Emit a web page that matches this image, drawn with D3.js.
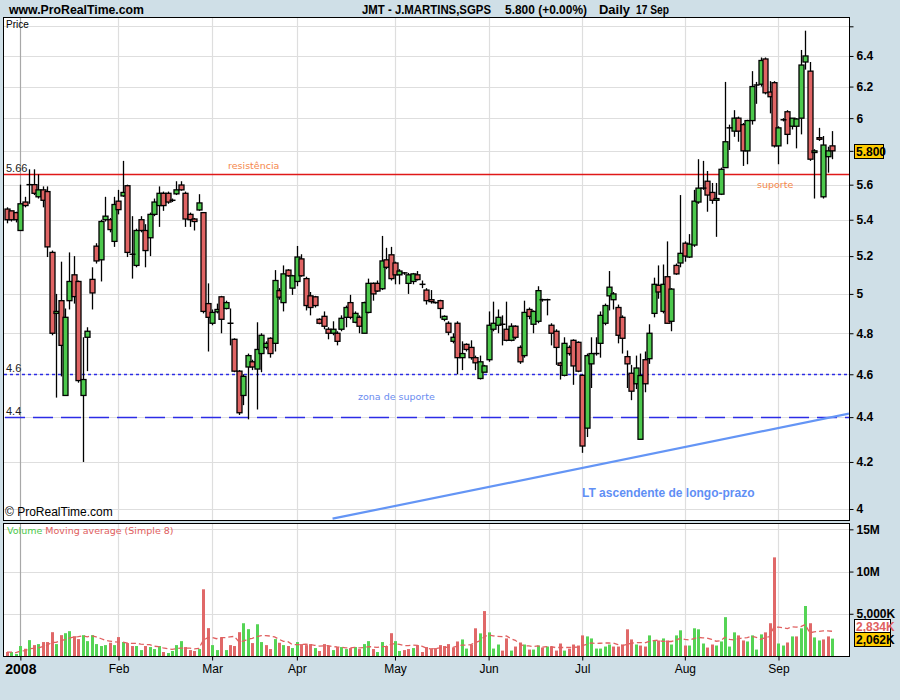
<!DOCTYPE html>
<html><head><meta charset="utf-8">
<script src="https://cdn.jsdelivr.net/npm/d3@7"></script>
<style>body{margin:0;background:#cfdfe7;} svg{display:block;}</style>
</head><body><svg id="chart" width="900" height="700"></svg>
<script>
// ---------- DATA ----------
const dates = [
"2007-12-27","2007-12-28","2007-12-31",
"2008-01-02","2008-01-03","2008-01-04","2008-01-07","2008-01-08","2008-01-09","2008-01-10","2008-01-11","2008-01-14","2008-01-15","2008-01-16","2008-01-17","2008-01-18","2008-01-21","2008-01-22","2008-01-23","2008-01-24","2008-01-25","2008-01-28","2008-01-29","2008-01-30","2008-01-31",
"2008-02-01","2008-02-04","2008-02-05","2008-02-06","2008-02-07","2008-02-08","2008-02-11","2008-02-12","2008-02-13","2008-02-14","2008-02-15","2008-02-18","2008-02-19","2008-02-20","2008-02-21","2008-02-22","2008-02-25","2008-02-26","2008-02-27","2008-02-28","2008-02-29",
"2008-03-03","2008-03-04","2008-03-05","2008-03-06","2008-03-07","2008-03-10","2008-03-11","2008-03-12","2008-03-13","2008-03-14","2008-03-17","2008-03-18","2008-03-19","2008-03-20","2008-03-25","2008-03-26","2008-03-27","2008-03-28","2008-03-31",
"2008-04-01","2008-04-02","2008-04-03","2008-04-04","2008-04-07","2008-04-08","2008-04-09","2008-04-10","2008-04-11","2008-04-14","2008-04-15","2008-04-16","2008-04-17","2008-04-18","2008-04-21","2008-04-22","2008-04-23","2008-04-24","2008-04-25","2008-04-28","2008-04-29","2008-04-30",
"2008-05-02","2008-05-05","2008-05-06","2008-05-07","2008-05-08","2008-05-09","2008-05-12","2008-05-13","2008-05-14","2008-05-15","2008-05-16","2008-05-19","2008-05-20","2008-05-21","2008-05-22","2008-05-23","2008-05-26","2008-05-27","2008-05-28","2008-05-29","2008-05-30",
"2008-06-02","2008-06-03","2008-06-04","2008-06-05","2008-06-06","2008-06-09","2008-06-10","2008-06-11","2008-06-12","2008-06-13","2008-06-16","2008-06-17","2008-06-18","2008-06-19","2008-06-20","2008-06-23","2008-06-24","2008-06-25","2008-06-26","2008-06-27","2008-06-30",
"2008-07-01","2008-07-02","2008-07-03","2008-07-04","2008-07-07","2008-07-08","2008-07-09","2008-07-10","2008-07-11","2008-07-14","2008-07-15","2008-07-16","2008-07-17","2008-07-18","2008-07-21","2008-07-22","2008-07-23","2008-07-24","2008-07-25","2008-07-28","2008-07-29","2008-07-30","2008-07-31",
"2008-08-01","2008-08-04","2008-08-05","2008-08-06","2008-08-07","2008-08-08","2008-08-11","2008-08-12","2008-08-13","2008-08-14","2008-08-15","2008-08-18","2008-08-19","2008-08-20","2008-08-21","2008-08-22","2008-08-25","2008-08-26","2008-08-27","2008-08-28","2008-08-29",
"2008-09-01","2008-09-02","2008-09-03","2008-09-04","2008-09-05","2008-09-08","2008-09-09","2008-09-10","2008-09-11","2008-09-12","2008-09-15","2008-09-16","2008-09-17"
];
const openP = [
5.46,5.45,5.44,5.34,5.50,5.60,5.60,5.53,5.57,5.56,
5.22,4.90,4.965,4.50,4.965,5.10,5.065,4.50,4.78,5.076,
5.254,5.18,5.40,5.40,5.28,5.505,5.535,5.594,5.21,5.15,
5.40,5.34,5.30,5.43,5.48,5.55,5.55,5.51,5.547,5.598,
5.55,5.43,5.404,5.455,5.44,4.95,4.85,4.908,4.985,4.925,
4.85,4.77,4.615,4.50,4.635,4.66,4.625,4.70,4.73,4.775,
4.75,5.017,4.955,5.125,5.03,5.065,
5.185,5.08,4.99,4.985,
4.87,4.885,4.82,4.80,4.80,4.82,4.88,4.955,4.855,4.88,
4.80,4.905,5.055,5.055,5.027,5.18,5.207,5.163,5.10,5.11,
5.055,5.065,5.10,5.05,5.02,4.97,4.955,4.965,4.87,4.85,
4.76,4.85,4.68,4.745,4.73,4.68,4.58,4.61,4.67,4.82,
4.84,4.845,4.82,4.765,4.835,4.73,4.69,4.92,4.845,4.86,
4.97,4.97,4.84,4.81,4.654,4.595,4.73,4.765,4.755,4.595,
4.35,4.65,4.70,4.75,4.85,4.99,4.97,4.93,4.88,4.685,
4.605,4.555,4.30,4.67,4.675,4.90,5.045,4.91,5.09,4.86,
5.15,5.163,5.27,5.195,5.26,5.50,5.58,5.62,5.555,5.51,
5.545,5.70,5.94,5.92,6.00,5.96,5.80,5.985,6.21,6.215,
6.38,6.165,6.225,5.83,5.99,6.04,5.95,5.95,6.00,6.36,
6.30,5.79,5.88,5.53,5.765,5.83
];
const highP = [
5.47,5.45,5.445,5.60,5.53,5.69,5.69,5.66,5.59,5.59,
5.23,5.00,5.17,4.925,5.22,5.20,5.07,4.78,4.83,5.14,
5.27,5.40,5.53,5.41,5.53,5.57,5.74,5.60,5.42,5.35,
5.42,5.375,5.44,5.52,5.59,5.56,5.56,5.52,5.62,5.62,
5.56,5.44,5.41,5.545,5.44,5.055,4.92,4.95,4.99,4.965,
4.925,4.775,4.62,4.60,4.70,4.67,4.855,4.80,4.76,4.78,
5.125,5.03,5.15,5.13,5.10,5.255,
5.21,5.09,5.01,4.99,
4.875,4.91,4.83,4.86,4.81,4.89,4.94,4.995,4.91,4.89,
4.96,5.08,5.06,5.07,5.31,5.245,5.25,5.17,5.13,5.115,
5.11,5.11,5.12,5.07,5.03,5.02,4.96,4.97,4.89,4.86,
4.80,4.86,4.76,4.75,4.765,4.69,4.69,4.645,4.91,4.96,
4.92,4.89,4.96,4.85,4.84,4.74,4.965,4.93,4.915,5.04,
4.975,4.975,4.85,4.82,4.66,4.78,4.74,4.77,4.76,4.60,
4.70,4.78,4.78,4.91,4.95,5.12,5.01,4.945,4.89,4.715,
4.645,4.69,4.70,4.71,4.845,5.085,5.15,5.155,5.28,5.03,
5.16,5.54,5.28,5.32,5.57,5.75,5.74,5.68,5.61,5.61,
5.70,6.23,5.96,6.05,6.01,5.97,5.99,6.30,6.23,6.39,
6.39,6.235,6.235,5.95,6.00,6.05,6.00,6.00,6.44,6.57,
6.36,5.81,5.94,5.89,5.825,5.92
];
const lowP = [
5.38,5.39,5.385,5.34,5.47,5.49,5.54,5.52,5.47,5.195,
4.79,4.49,4.59,4.50,4.92,4.95,4.56,4.20,4.615,4.92,
5.16,5.065,5.39,5.33,5.25,5.43,5.53,5.195,5.08,5.14,
5.33,5.14,5.20,5.42,5.36,5.45,5.49,5.50,5.54,5.565,
5.36,5.36,5.34,5.45,4.90,4.71,4.84,4.90,4.80,4.92,
4.74,4.61,4.41,4.455,4.39,4.62,4.435,4.61,4.72,4.68,
4.71,4.97,4.91,5.09,4.995,5.04,
5.09,4.915,4.89,4.93,
4.845,4.82,4.77,4.79,4.74,4.81,4.83,4.87,4.85,4.80,
4.80,4.90,4.965,5.01,5.02,5.13,5.07,5.05,5.05,5.10,
5.00,5.05,5.07,5.03,4.945,4.95,4.95,4.875,4.86,4.79,
4.75,4.60,4.62,4.71,4.67,4.62,4.575,4.61,4.66,4.81,
4.80,4.74,4.76,4.76,4.77,4.65,4.68,4.87,4.80,4.85,
4.96,4.89,4.74,4.645,4.575,4.59,4.69,4.55,4.61,4.24,
4.31,4.535,4.69,4.68,4.84,4.915,4.92,4.75,4.70,4.535,
4.478,4.53,4.30,4.515,4.65,4.88,4.975,4.90,4.85,4.81,
5.10,5.14,5.17,5.19,5.25,5.49,5.57,5.445,5.49,5.305,
5.54,5.70,5.805,5.885,5.855,5.71,5.72,5.96,6.09,6.20,
6.15,6.03,5.82,5.72,5.98,5.84,5.93,5.815,5.90,6.31,
5.74,5.52,5.86,5.52,5.67,5.75
];
const closeP = [
5.40,5.40,5.40,5.49,5.48,5.60,5.55,5.57,5.51,5.25,
4.80,4.91,4.74,4.88,5.065,4.986,4.57,4.575,4.81,5.005,
5.174,5.39,5.42,5.345,5.486,5.457,5.555,5.22,5.21,5.34,
5.34,5.23,5.43,5.50,5.55,5.48,5.50,5.51,5.57,5.57,
5.404,5.40,5.39,5.495,4.91,4.88,4.905,4.92,4.87,4.955,
4.85,4.615,4.42,4.59,4.69,4.635,4.72,4.79,4.75,4.70,
5.07,4.983,5.105,5.095,5.095,5.195,
5.095,4.94,4.93,4.94,
4.85,4.835,4.80,4.82,4.76,4.875,4.93,4.88,4.90,4.835,
4.955,5.055,5.00,5.015,5.174,5.14,5.08,5.10,5.12,5.11,
5.10,5.105,5.075,5.05,4.965,4.96,4.955,4.925,4.885,4.805,
4.78,4.68,4.70,4.72,4.68,4.655,4.66,4.64,4.84,4.85,
4.88,4.845,4.765,4.835,4.78,4.66,4.905,4.885,4.91,5.017,
4.97,4.97,4.80,4.73,4.643,4.75,4.70,4.64,4.615,4.27,
4.69,4.70,4.70,4.89,4.94,5.035,5.00,4.79,4.775,4.65,
4.52,4.63,4.594,4.555,4.80,5.05,5.01,5.05,4.85,5.025,
5.105,5.215,5.20,5.265,5.505,5.58,5.58,5.54,5.51,5.52,
5.69,5.855,5.94,6.00,5.92,5.80,5.985,6.20,6.21,6.37,
6.16,6.135,5.83,5.94,5.99,5.90,6.00,5.995,6.34,6.40,
5.75,5.80,5.87,5.835,5.80,5.80
];
// volume in millions of shares
const volume = [
0.47,0.47,0.24,1.18,0.86,1.88,1.29,1.41,1.65,1.65,
2.82,1.41,2.47,2.70,2.94,2.35,2.00,2.47,1.76,2.47,
1.41,1.18,1.29,1.57,1.29,2.24,1.65,1.53,1.18,1.18,
0.70,1.18,1.06,0.82,1.18,0.47,0.35,0.59,1.29,1.76,
1.06,0.70,0.59,0.82,7.90,3.30,1.29,0.70,2.20,0.70,
1.29,1.18,2.82,3.88,3.18,1.53,3.76,1.65,1.29,0.82,
2.00,1.57,1.29,1.18,0.94,1.65,
1.41,1.29,1.41,0.94,
0.59,1.41,1.18,0.70,1.06,1.06,0.82,0.94,1.06,0.82,
1.41,1.76,0.82,0.47,1.65,1.18,2.70,1.76,0.59,0.70,
0.82,0.94,1.29,0.47,1.06,0.82,0.94,1.29,1.18,1.41,
1.00,1.72,1.96,0.88,1.36,3.28,2.68,5.32,2.80,0.88,
1.36,0.64,2.08,0.64,1.12,1.60,1.36,0.76,0.76,1.24,
1.00,1.12,1.12,0.64,1.48,0.64,0.88,1.36,1.24,2.44,
2.32,2.08,0.88,0.88,1.12,1.36,1.12,1.12,1.36,3.16,
1.96,1.36,1.24,1.12,2.44,1.84,1.84,2.08,1.84,1.36,
2.44,3.04,1.24,1.24,3.28,3.16,1.48,1.00,1.36,1.24,
1.72,4.60,1.12,2.80,2.44,1.84,1.72,2.44,0.76,2.56,
2.80,3.88,11.68,1.48,1.24,1.60,2.32,2.32,3.28,5.92,
3.88,2.20,1.84,1.96,2.32,2.06
];
const priceTicks = [4.0,4.2,4.4,4.6,4.8,5.0,5.2,5.4,5.6,5.8,6.0,6.2,6.4,6.6];
// 5.8 label is hidden behind the last-price badge, 6.6 has no label
const priceTickLabels = ["4","4.2","4.4","4.6","4.8","5","5.2","5.4","5.6","","6","6.2","6.4",""];
const volTicks = [5,10,15];
const volTickLabels = ["5,000K","10M","15M"];
const monthTickDates = ["2008-01-02","2008-02-01","2008-03-03","2008-04-01","2008-05-02","2008-06-02","2008-07-01","2008-08-01","2008-09-01"];
const monthTickLabels = ["2008","Feb","Mar","Apr","May","Jun","Jul","Aug","Sep"];
const levelPrices = [5.66, 4.6, 4.4];
const levelLabels = ["5.66","4.6","4.4"];
const trendDates = ["2008-04-11","2008-09-17"];
const trendPrices = [3.96, 4.40];
const headerTexts = ["www.ProRealTime.com","JMT - J.MARTINS,SGPS","5.800 (+0.00%)","Daily","17 Sep"];
const lastPriceLabel = "5.800";
const lastVolLabel = "2,062K";
const lastMaLabel = "2,834K";

// ---------- LAYOUT ----------
const svg = d3.select("#chart");
const L = 3, R = 849, PT = 17, PB = 520, VT = 523, VB = 656;
const GREEN = "#4cc84c", RED = "#e06464", VGREEN = "#55d455", VRED = "#e06868";

const x = d3.scalePoint().domain(dates).range([7, 832]);
const yP = d3.scaleLog().domain([3.9546, 6.664]).range([PB, PT]);
const yV = d3.scaleLinear().domain([0, 15.75]).range([VB, VT]);

const data = dates.map((d,i)=>({d, o:openP[i], h:highP[i], l:lowP[i], c:closeP[i], v:volume[i]}));

svg.append("rect").attr("width",900).attr("height",700).attr("fill","#cfdfe7");

// header (condensed bold look)
const hdrPos = [[9,135],[362,129],[505,82],[599,31],[636,33]];
const hdr = svg.append("g").attr("font-family","'Liberation Sans',Arial,sans-serif").attr("font-weight","bold").attr("font-size",12.5).attr("fill","#000");
headerTexts.forEach((t,i)=>{
  hdr.append("text").attr("x",hdrPos[i][0]).attr("y",14).attr("textLength",hdrPos[i][1])
    .attr("lengthAdjust","spacingAndGlyphs").text(t);
});

// panels
svg.append("rect").attr("x",L+0.5).attr("y",PT+0.5).attr("width",R-L).attr("height",PB-PT).attr("fill","#fff").attr("stroke","#000");
svg.append("rect").attr("x",L+0.5).attr("y",VT+0.5).attr("width",R-L).attr("height",VB-VT).attr("fill","#fff").attr("stroke","#000");

const defs = svg.append("defs");
defs.append("clipPath").attr("id","clipP").append("rect").attr("x",L+1).attr("y",PT+1).attr("width",R-L-1).attr("height",PB-PT-1);
defs.append("clipPath").attr("id","clipV").append("rect").attr("x",L+1).attr("y",VT+1).attr("width",R-L-1).attr("height",VB-VT-1);

const gP = svg.append("g").attr("clip-path","url(#clipP)");
const gV = svg.append("g").attr("clip-path","url(#clipV)");
const px = d => Math.round(x(d)) + 0.5;

// gridlines price
gP.selectAll(".hg").data(priceTicks).join("line")
  .attr("x1",L).attr("x2",R).attr("y1",d=>Math.round(yP(d))+0.5).attr("y2",d=>Math.round(yP(d))+0.5)
  .attr("stroke","#dedede").attr("stroke-width",1.2);
gP.selectAll(".vg").data(monthTickDates).join("line")
  .attr("x1",px).attr("x2",px).attr("y1",PT).attr("y2",PB)
  .attr("stroke",(d,i)=>i===0?"#a8a8a8":"#dedede").attr("stroke-width",1.2);
// gridlines volume
gV.selectAll(".hg").data(volTicks).join("line")
  .attr("x1",L).attr("x2",R).attr("y1",d=>Math.round(yV(d))+0.5).attr("y2",d=>Math.round(yV(d))+0.5)
  .attr("stroke","#dedede").attr("stroke-width",1.2);
gV.selectAll(".vg").data(monthTickDates).join("line")
  .attr("x1",px).attr("x2",px).attr("y1",VT).attr("y2",VB)
  .attr("stroke",(d,i)=>i===0?"#a8a8a8":"#dedede").attr("stroke-width",1.2);

// level lines
const levelStyles = [
  {stroke:"#e01818", dash:null, off:0},
  {stroke:"#2c2ce6", dash:"3,3", off:0},
  {stroke:"#2c2ce6", dash:"20,8", off:-1}
];
levelPrices.forEach((p,i)=>{
  const yy = Math.round(yP(p))+0.5;
  gP.append("line").attr("x1",L+1).attr("x2",R).attr("y1",yy).attr("y2",yy)
    .attr("stroke",levelStyles[i].stroke).attr("stroke-width",1.3)
    .attr("stroke-dasharray",levelStyles[i].dash).attr("stroke-dashoffset",levelStyles[i].off);
  gP.append("text").attr("x",6).attr("y",yy-3).attr("font-family","'Liberation Sans',Arial,sans-serif")
    .attr("font-size",11).attr("fill","#222").text(levelLabels[i]);
});

// trend line (extended to the panel edges)
const tx0 = x(trendDates[0]), ty0 = yP(trendPrices[0]);
const tx1 = x(trendDates[1]), ty1 = yP(trendPrices[1]);
const slope = (ty1-ty0)/(tx1-tx0);
gP.append("line").attr("x1",tx0).attr("y1",ty0).attr("x2",R).attr("y2",ty0 + (R-tx0)*slope)
  .attr("stroke","#6495f5").attr("stroke-width",2.2);

// candles
const cg = gP.append("g");
cg.selectAll(".wick").data(data).join("line")
  .attr("x1",d=>px(d.d)).attr("x2",d=>px(d.d))
  .attr("y1",d=>yP(d.h)).attr("y2",d=>yP(d.l))
  .attr("stroke","#000").attr("stroke-width",1.3);
cg.selectAll(".body").data(data.filter(d=>Math.abs(yP(d.o)-yP(d.c))>=1.5)).join("rect")
  .attr("x",d=>px(d.d)-2.5).attr("width",5)
  .attr("y",d=>Math.min(yP(d.o),yP(d.c))).attr("height",d=>Math.abs(yP(d.o)-yP(d.c)))
  .attr("fill",d=>d.c>=d.o?GREEN:RED).attr("stroke","#000").attr("stroke-width",1.3);
cg.selectAll(".doji").data(data.filter(d=>Math.abs(yP(d.o)-yP(d.c))<1.5)).join("line")
  .attr("x1",d=>px(d.d)-3).attr("x2",d=>px(d.d)+3)
  .attr("y1",d=>yP(d.c)).attr("y2",d=>yP(d.c))
  .attr("stroke","#000").attr("stroke-width",1.5);

// annotations
const af = "'DejaVu Sans',Verdana,sans-serif";
gP.append("text").attr("x",228).attr("y",169).attr("font-family",af).attr("font-size",9.5).attr("fill","#f5874a").text("resistência");
gP.append("text").attr("x",757).attr("y",188).attr("font-family",af).attr("font-size",9.5).attr("fill","#f5874a").text("suporte");
gP.append("text").attr("x",358).attr("y",400).attr("font-family",af).attr("font-size",9.5).attr("fill","#6a8cf0").text("zona de suporte");
gP.append("text").attr("x",582).attr("y",497).attr("font-family","'Liberation Sans',Arial,sans-serif").attr("font-weight","bold")
  .attr("font-size",12).attr("fill","#5f8ff5").text("LT ascendente de longo-prazo");
gP.append("text").attr("x",6).attr("y",28).attr("font-family","'Liberation Sans',Arial,sans-serif").attr("font-size",10).attr("fill","#000").text("Price");
gP.append("text").attr("x",5).attr("y",516).attr("font-family","'Liberation Sans',Arial,sans-serif").attr("font-size",12).attr("fill","#000").text("© ProRealTime.com");

// volume bars (colour: close vs previous close)
const vg = gV.append("g");
vg.selectAll("rect").data(data).join("rect")
  .attr("x",d=>Math.round(x(d.d))-1).attr("width",3)
  .attr("y",d=>yV(d.v)).attr("height",d=>VB-yV(d.v))
  .attr("fill",(d,i)=> (i===0 ? d.c>=d.o : d.c>=data[i-1].c) ? VGREEN : VRED);
// moving average (simple 8)
const ma = data.map((d,i)=>{ const s = data.slice(Math.max(0,i-7), i+1); return {d:d.d, v:d3.mean(s, e=>e.v)}; });
gV.append("path").datum(ma)
  .attr("d", d3.line().x(d=>x(d.d)).y(d=>yV(d.v)))
  .attr("fill","none").attr("stroke","#e06060").attr("stroke-width",1.3).attr("stroke-dasharray","5,3");
const lg = gV.append("text").attr("x",7).attr("y",534).attr("font-family",af).attr("font-size",9.5);
lg.append("tspan").attr("fill","#4cc84c").text("Volume ");
lg.append("tspan").attr("fill","#e06060").text("Moving average (Simple 8)");

// right axes
const axf = "'Liberation Sans',Arial,sans-serif";
const axP = svg.append("g").attr("transform",`translate(${R+0.5},0)`)
  .call(d3.axisRight(yP).tickValues(priceTicks).tickFormat((d,i)=>priceTickLabels[i]).tickSize(4).tickPadding(3));
axP.select(".domain").attr("d",`M0,${PT}V${PB}`);
const axV = svg.append("g").attr("transform",`translate(${R+0.5},0)`)
  .call(d3.axisRight(yV).tickValues(volTicks).tickFormat((d,i)=>volTickLabels[i]).tickSize(4).tickPadding(3));
axV.select(".domain").attr("d",`M0,${VT}V${VB}`);
[axP,axV].forEach(a=>{
  a.selectAll("text").attr("font-family",axf).attr("font-weight","bold").attr("font-size",12).attr("fill","#000");
  a.selectAll("line").attr("stroke","#000");
  a.select(".domain").attr("stroke","#000");
});

// bottom axis
const axX = svg.append("g").attr("transform",`translate(0,${VB+0.5})`)
  .call(d3.axisBottom(x).tickValues(monthTickDates).tickFormat((d,i)=>monthTickLabels[i]).tickSize(4).tickPadding(4));
axX.select(".domain").remove();
axX.selectAll("line").attr("stroke","#000");
axX.selectAll("text").attr("font-family",axf).attr("fill","#000")
  .attr("font-weight",(d,i)=>i===0?"bold":"normal").attr("font-size",(d,i)=>i===0?14:12);

// badges
function badge(yc, label, fill, color, w){
  const g = svg.append("g");
  g.append("rect").attr("x",854.5).attr("y",Math.round(yc-7)+0.5).attr("width",w).attr("height",14)
    .attr("fill",fill).attr("stroke","#000");
  g.append("text").attr("x",856).attr("y",Math.round(yc)+4.5).attr("font-family",axf).attr("font-weight","bold")
    .attr("font-size",12).attr("fill",color).text(label);
}
badge(yP(closeP[closeP.length-1]), lastPriceLabel, "#ffcc00", "#000", 29);
badge(626, lastMaLabel, "#fff", "#e06060", 36);
badge(yV(volume[volume.length-1]), lastVolLabel, "#ffcc00", "#000", 36);
</script></body></html>
